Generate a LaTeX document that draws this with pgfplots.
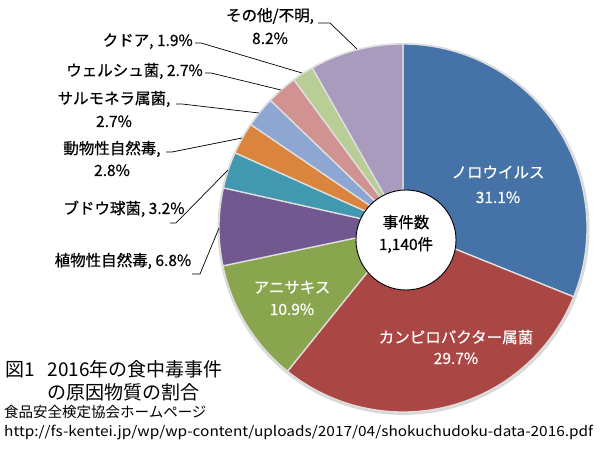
\documentclass[border=0pt]{standalone}
\usepackage{pgfplots}
\pgfplotsset{compat=1.18}
\usepackage{fontspec}
\usepackage{graphicx}
\setmainfont{Noto Sans CJK JP}
\newfontfamily\lbfont{Noto Sans CJK JP}[FakeBold=0.6]
\definecolor{cNoro}{HTML}{4572A7}
\definecolor{cCampy}{HTML}{AA4643}
\definecolor{cAnis}{HTML}{89A54E}
\definecolor{cPlant}{HTML}{71588F}
\definecolor{cStaph}{HTML}{4198AF}
\definecolor{cAnimal}{HTML}{DB843D}
\definecolor{cSalm}{HTML}{8DA6D2}
\definecolor{cWelch}{HTML}{D19392}
\definecolor{cKudoa}{HTML}{B9CD96}
\definecolor{cOther}{HTML}{A99BBD}
\def\cum{90}
\newcommand\slice[2]{%
  \pgfmathsetmacro\sa{\cum}%
  \pgfmathsetmacro\sb{\cum-3.6*#1}%
  \edef\tmp{\noexpand\addplot[fill=#2, draw=white!88!black, line width=1.3pt, domain=\sb:\sa, samples=90, variable=\noexpand\t] ({403+184*cos(\noexpand\t)},{228-184*sin(\noexpand\t)}) -- (axis cs:403,228) -- cycle;}%
  \tmp
  \xdef\cum{\sb}%
}
\newcommand\lf{\lbfont\fontsize{15.5}{18}\selectfont}
\begin{document}
\begin{tikzpicture}
\begin{axis}[scale only axis, width=600pt, height=449pt,
  xmin=0, xmax=600, ymin=0, ymax=449, y dir=reverse, hide axis, clip=false]
\coordinate (bl) at (axis cs:0,449);
\coordinate (tr) at (axis cs:600,0);
% soft shadow ring
\addplot[draw=none, fill=black!15, domain=0:360, samples=120, variable=\t] ({403.5+186*cos(\t)},{229-186*sin(\t)}) -- cycle;
\slice{31.1}{cNoro}
\slice{29.7}{cCampy}
\slice{10.9}{cAnis}
\slice{6.8}{cPlant}
\slice{3.2}{cStaph}
\slice{2.8}{cAnimal}
\slice{2.7}{cSalm}
\slice{2.7}{cWelch}
\slice{1.9}{cKudoa}
\slice{8.2}{cOther}
% leader lines
\addplot[black, line width=0.7pt] coordinates {(318,23) (330,23) (357,49)};
\addplot[black, line width=0.7pt] coordinates {(195,43) (201,43) (302,73)};
\addplot[black, line width=0.7pt] coordinates {(205,73) (211,73) (281,90)};
\addplot[black, line width=0.7pt] coordinates {(176,104) (182,104) (259,113)};
\addplot[black, line width=0.7pt] coordinates {(166,152) (172,152) (242,138)};
\addplot[black, line width=0.7pt] coordinates {(170,223) (176,223) (228,170)};
\addplot[black, line width=0.7pt] coordinates {(192,274) (200,274) (219,228)};
% centre hole
\node[circle, draw=black, line width=0.9pt, fill=white, minimum size=100pt, inner sep=0pt] at (axis cs:406,240) {};
\node[font=\lf, anchor=base] at (axis cs:406,228) {事件数};
\node[font=\lf, anchor=base] at (axis cs:406,250) {1,140件};
% inside labels
\node[font=\lf, text=white, anchor=base] at (axis cs:498,178) {ノロウイルス};
\node[font=\lf, text=white, anchor=base] at (axis cs:498,203) {31.1\%};
\node[font=\lf, text=white, anchor=base] at (axis cs:456,343) {カンピロバクター属菌};
\node[font=\lf, text=white, anchor=base] at (axis cs:456,364) {29.7\%};
\node[font=\lf, text=white, anchor=base] at (axis cs:292,293) {アニサキス};
\node[font=\lf, text=white, anchor=base] at (axis cs:292,315) {10.9\%};
% outside labels
\node[font=\lf, anchor=base] at (axis cs:270,21) {その他/不明,};
\node[font=\lf, anchor=base] at (axis cs:270,44) {8.2\%};
\node[font=\lf, anchor=base east, inner sep=0pt] at (axis cs:193,46) {クドア, 1.9\%};
\node[font=\lf, anchor=base east, inner sep=0pt] at (axis cs:203,76) {ウェルシュ菌, 2.7\%};
\node[font=\lf, anchor=base] at (axis cs:114,104) {サルモネラ属菌,};
\node[font=\lf, anchor=base] at (axis cs:114,127) {2.7\%};
\node[font=\lf, anchor=base] at (axis cs:112,154) {動物性自然毒,};
\node[font=\lf, anchor=base] at (axis cs:112,176) {2.8\%};
\node[font=\lf, anchor=base] at (axis cs:124,214) {ブドウ球菌, 3.2\%};
\node[font=\lf, anchor=base] at (axis cs:123,266) {植物性自然毒, 6.8\%};
% title and source
\node[font=\fontsize{19}{22}\selectfont, anchor=base west, inner sep=0pt] at (axis cs:5,376) {図1\hspace{13pt}2016年の食中毒事件};
\node[font=\fontsize{19}{22}\selectfont, anchor=base west, inner sep=0pt] at (axis cs:47,399) {の原因物質の割合};
\node[font=\fontsize{14.5}{17}\selectfont, anchor=base west, inner sep=0pt] at (axis cs:4,417) {食品安全検定協会ホームページ};
\node[anchor=base west, inner sep=0pt] at (axis cs:4,436) {\resizebox{589pt}{\height}{\fontsize{14}{16}\selectfont http://fs-kentei.jp/wp/wp-content/uploads/2017/04/shokuchudoku-data-2016.pdf}};
\end{axis}
\pgfresetboundingbox
\path (bl) rectangle (tr);
\end{tikzpicture}
\end{document}
